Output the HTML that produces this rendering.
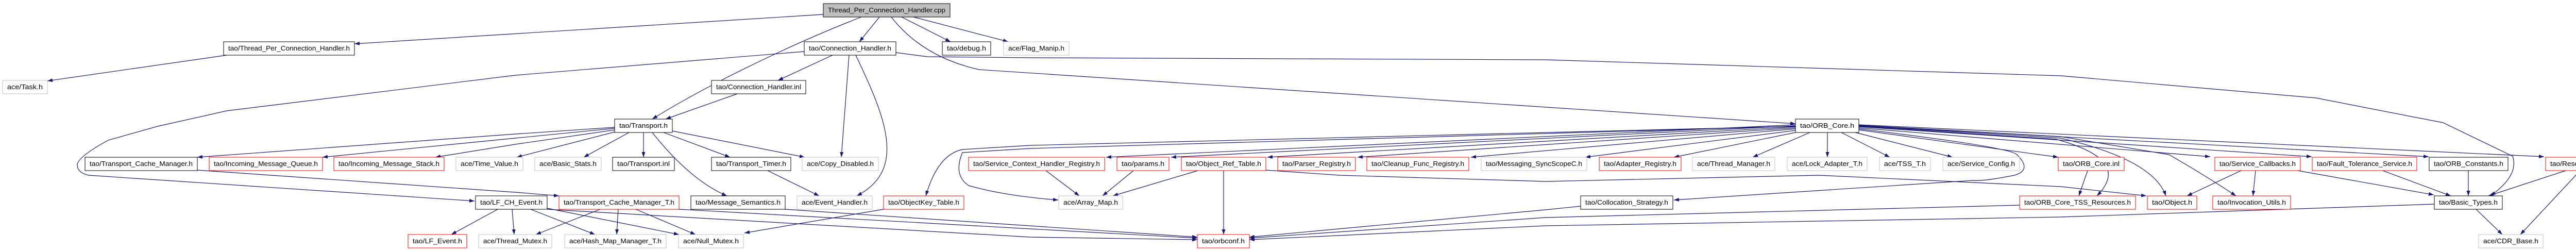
<!DOCTYPE html>
<html><head><meta charset="utf-8"><style>
html,body{margin:0;padding:0;background:#fff;}
svg{display:block;}
text{font-family:"Liberation Sans",sans-serif;font-size:13px;fill:#000;}
.e{fill:none;stroke:#191970;stroke-width:1.2;marker-end:url(#a);}
.b{fill:#fff;stroke:#000;stroke-width:1;}
.r{fill:#fff;stroke:#ff0000;stroke-width:1;}
.g{fill:#fff;stroke:#bfbfbf;stroke-width:1;}
</style></head><body>
<svg width="5109" height="485" viewBox="0 0 5109 485" xmlns="http://www.w3.org/2000/svg">
<defs><marker id="a" markerUnits="userSpaceOnUse" markerWidth="11" markerHeight="8" refX="10" refY="3.5" orient="auto"><path d="M0,0 L10,3.5 L0,7 z" fill="#191970"/></marker></defs>
<g>
<path class="e" d="M1598,28 L688,85"/>
<path class="e" d="M1707,33 L1668,81"/>
<path class="e" d="M1672,33 C1550,80 1380,160 1266,231"/>
<path class="e" d="M1750,33 L1845,81"/>
<path class="e" d="M1773,33 L1957,81"/>
<path class="e" d="M1730,33 Q1790,110 1900,135 L3485,240"/>
<path class="e" d="M1616,107 L1510,156"/>
<path class="e" d="M1648,107 L1633,305"/>
<path class="e" d="M1661,107 C1720,230 1760,330 1663,380"/>
<path class="e" d="M1561,100 L1000,146 L440,215 L306,245 L210,272 Q150,305 150,320 Q150,335 172,340 L921,390"/>
<path class="e" d="M1739,102 L1800,110 L2000,112 L3000,116 L4000,147 L4495,190 L4742,238 L4877,303 Q4890,340 4834,380"/>
<path class="e" d="M1431,182 L1292,231"/>
<path class="e" d="M1193,247 L1000,260 L383,305"/>
<path class="e" d="M1193,249 L1000,268 L626,305"/>
<path class="e" d="M1193,252 L1000,280 L845,305"/>
<path class="e" d="M1193,256 L1003,305"/>
<path class="e" d="M1221,257 L1133,305"/>
<path class="e" d="M1249,257 L1249,305"/>
<path class="e" d="M1288,257 L1417,305"/>
<path class="e" d="M1305,254 L1562,305"/>
<path class="e" d="M1266,257 Q1340,350 1411,380"/>
<path class="e" d="M383,330 L1000,373 L1085,380"/>
<path class="e" d="M1490,331 L1590,380"/>
<path class="e" d="M966,406 L876,455"/>
<path class="e" d="M994,406 L998,455"/>
<path class="e" d="M1030,406 L1155,455"/>
<path class="e" d="M1062,404 L1318,455"/>
<path class="e" d="M1062,406 L2000,460 L2324,465"/>
<path class="e" d="M1165,406 L1040,455"/>
<path class="e" d="M1200,406 L1197,455"/>
<path class="e" d="M1234,406 L1350,455"/>
<path class="e" d="M1318,406 L2000,444 L2324,462"/>
<path class="e" d="M1524,406 L2324,460"/>
<path class="e" d="M1715,406 L1445,452"/>
<path class="e" d="M3485,242 L2147,305"/>
<path class="e" d="M3485,244 L2273,305"/>
<path class="e" d="M3485,246 L2460,305"/>
<path class="e" d="M3485,248 L2635,305"/>
<path class="e" d="M3485,250 L2855,305"/>
<path class="e" d="M3485,253 L3077,305"/>
<path class="e" d="M3490,256 L3249,305"/>
<path class="e" d="M3513,257 L3402,305"/>
<path class="e" d="M3547,257 L3547,305"/>
<path class="e" d="M3574,257 L3668,305"/>
<path class="e" d="M3601,257 L3790,305"/>
<path class="e" d="M3608,252 L3995,305"/>
<path class="e" d="M3485,245 L2000,282 L1868,290 Q1820,300 1797,380"/>
<path class="e" d="M3485,245 L2000,288 L1868,296 Q1850,340 1880,360 Q1950,380 2054,388"/>
<path class="e" d="M3608,250 Q3900,285 3915,300 Q3945,330 3910,340 Q3850,352 3830,350 L3249,388"/>
<path class="e" d="M3608,245 L3990,270 Q4140,310 4070,380"/>
<path class="e" d="M3608,244 L4000,268 Q4180,310 4204,380"/>
<path class="e" d="M3608,243 L4000,265 L4210,300 Q4280,340 4340,380"/>
<path class="e" d="M3608,248 L4290,304"/>
<path class="e" d="M3608,246 L4487,304"/>
<path class="e" d="M3608,244 L4714,304"/>
<path class="e" d="M3608,242 L4938,304"/>
<path class="e" d="M2030,331 L2095,380"/>
<path class="e" d="M2200,331 L2140,380"/>
<path class="e" d="M2325,331 L2160,380"/>
<path class="e" d="M2375,331 L2375,455"/>
<path class="e" d="M2457,330 L2600,340 L3000,352 L3530,340 L4000,362 L4166,380"/>
<path class="e" d="M4052,331 L4035,380"/>
<path class="e" d="M4350,331 L4245,380"/>
<path class="e" d="M4378,331 L4373,380"/>
<path class="e" d="M4460,331 L4724,378"/>
<path class="e" d="M4625,331 L4757,380"/>
<path class="e" d="M4791,331 L4791,380"/>
<path class="e" d="M4980,331 L4830,380"/>
<path class="e" d="M5008,331 L4892,455"/>
<path class="e" d="M4806,406 L4857,455"/>
<path class="e" d="M4725,396 L4000,421 L3000,438 L2425,465"/>
<path class="e" d="M3920,398 L3000,422 L2425,462"/>
<path class="e" d="M3068,400 L3000,407 L2425,460"/>
<path class="e" d="M440,107 L92,157"/>
</g>
<g>
<rect x="1598" y="7" width="246" height="26" fill="#bfbfbf" stroke="#000"/><text x="1607" y="24" textLength="228" lengthAdjust="spacingAndGlyphs">Thread_Per_Connection_Handler.cpp</text>
<rect class="b" x="434" y="81" width="254" height="26"/><text x="443" y="98" textLength="236" lengthAdjust="spacingAndGlyphs">tao/Thread_Per_Connection_Handler.h</text>
<rect class="b" x="1561" y="81" width="178" height="26"/><text x="1570" y="98" textLength="160" lengthAdjust="spacingAndGlyphs">tao/Connection_Handler.h</text>
<rect class="b" x="1829" y="81" width="94" height="26"/><text x="1838" y="98" textLength="76" lengthAdjust="spacingAndGlyphs">tao/debug.h</text>
<rect class="g" x="1948" y="81" width="127" height="26"/><text x="1957" y="98" textLength="109" lengthAdjust="spacingAndGlyphs">ace/Flag_Manip.h</text>
<rect class="g" x="5" y="156" width="87" height="26"/><text x="14" y="173" textLength="69" lengthAdjust="spacingAndGlyphs">ace/Task.h</text>
<rect class="b" x="1381" y="156" width="183" height="26"/><text x="1390" y="173" textLength="165" lengthAdjust="spacingAndGlyphs">tao/Connection_Handler.inl</text>
<rect class="b" x="1193" y="231" width="112" height="26"/><text x="1202" y="248" textLength="94" lengthAdjust="spacingAndGlyphs">tao/Transport.h</text>
<rect class="b" x="3485" y="231" width="123" height="26"/><text x="3494" y="248" textLength="105" lengthAdjust="spacingAndGlyphs">tao/ORB_Core.h</text>

<rect class="b" x="165" y="305" width="218" height="26"/><text x="174" y="322" textLength="200" lengthAdjust="spacingAndGlyphs">tao/Transport_Cache_Manager.h</text>
<rect class="r" x="406" y="305" width="220" height="26"/><text x="415" y="322" textLength="202" lengthAdjust="spacingAndGlyphs">tao/Incoming_Message_Queue.h</text>
<rect class="r" x="648" y="305" width="214" height="26"/><text x="657" y="322" textLength="196" lengthAdjust="spacingAndGlyphs">tao/Incoming_Message_Stack.h</text>
<rect class="g" x="885" y="305" width="130" height="26"/><text x="894" y="322" textLength="112" lengthAdjust="spacingAndGlyphs">ace/Time_Value.h</text>
<rect class="g" x="1038" y="305" width="129" height="26"/><text x="1047" y="322" textLength="111" lengthAdjust="spacingAndGlyphs">ace/Basic_Stats.h</text>
<rect class="b" x="1189" y="305" width="120" height="26"/><text x="1198" y="322" textLength="102" lengthAdjust="spacingAndGlyphs">tao/Transport.inl</text>
<rect class="b" x="1381" y="305" width="154" height="26"/><text x="1390" y="322" textLength="136" lengthAdjust="spacingAndGlyphs">tao/Transport_Timer.h</text>
<rect class="g" x="1557" y="305" width="148" height="26"/><text x="1566" y="322" textLength="130" lengthAdjust="spacingAndGlyphs">ace/Copy_Disabled.h</text>
<rect class="r" x="1880" y="305" width="264" height="26"/><text x="1889" y="322" textLength="246" lengthAdjust="spacingAndGlyphs">tao/Service_Context_Handler_Registry.h</text>
<rect class="r" x="2168" y="305" width="101" height="26"/><text x="2177" y="322" textLength="83" lengthAdjust="spacingAndGlyphs">tao/params.h</text>
<rect class="r" x="2293" y="305" width="164" height="26"/><text x="2302" y="322" textLength="146" lengthAdjust="spacingAndGlyphs">tao/Object_Ref_Table.h</text>
<rect class="r" x="2480" y="305" width="151" height="26"/><text x="2489" y="322" textLength="133" lengthAdjust="spacingAndGlyphs">tao/Parser_Registry.h</text>
<rect class="r" x="2653" y="305" width="198" height="26"/><text x="2662" y="322" textLength="180" lengthAdjust="spacingAndGlyphs">tao/Cleanup_Func_Registry.h</text>
<rect class="g" x="2875" y="305" width="205" height="26"/><text x="2884" y="322" textLength="187" lengthAdjust="spacingAndGlyphs">tao/Messaging_SyncScopeC.h</text>
<rect class="r" x="3104" y="305" width="159" height="26"/><text x="3113" y="322" textLength="141" lengthAdjust="spacingAndGlyphs">tao/Adapter_Registry.h</text>
<rect class="g" x="3285" y="305" width="160" height="26"/><text x="3294" y="322" textLength="142" lengthAdjust="spacingAndGlyphs">ace/Thread_Manager.h</text>
<rect class="g" x="3469" y="305" width="155" height="26"/><text x="3478" y="322" textLength="137" lengthAdjust="spacingAndGlyphs">ace/Lock_Adapter_T.h</text>
<rect class="g" x="3648" y="305" width="99" height="26"/><text x="3657" y="322" textLength="81" lengthAdjust="spacingAndGlyphs">ace/TSS_T.h</text>
<rect class="g" x="3771" y="305" width="149" height="26"/><text x="3780" y="322" textLength="131" lengthAdjust="spacingAndGlyphs">ace/Service_Config.h</text>
<rect class="r" x="3995" y="305" width="128" height="26"/><text x="4004" y="322" textLength="110" lengthAdjust="spacingAndGlyphs">tao/ORB_Core.inl</text>
<rect class="r" x="4299" y="305" width="166" height="26"/><text x="4308" y="322" textLength="148" lengthAdjust="spacingAndGlyphs">tao/Service_Callbacks.h</text>
<rect class="r" x="4488" y="305" width="203" height="26"/><text x="4497" y="322" textLength="185" lengthAdjust="spacingAndGlyphs">tao/Fault_Tolerance_Service.h</text>
<rect class="b" x="4715" y="305" width="153" height="26"/><text x="4724" y="322" textLength="135" lengthAdjust="spacingAndGlyphs">tao/ORB_Constants.h</text>
<rect class="r" x="4941" y="305" width="164" height="26"/><text x="4950" y="322" textLength="146" lengthAdjust="spacingAndGlyphs">tao/Resource_Factory.h</text>

<rect class="b" x="923" y="380" width="139" height="26"/><text x="932" y="397" textLength="121" lengthAdjust="spacingAndGlyphs">tao/LF_CH_Event.h</text>
<rect class="r" x="1085" y="380" width="233" height="26"/><text x="1094" y="397" textLength="215" lengthAdjust="spacingAndGlyphs">tao/Transport_Cache_Manager_T.h</text>
<rect class="b" x="1341" y="380" width="183" height="26"/><text x="1350" y="397" textLength="165" lengthAdjust="spacingAndGlyphs">tao/Message_Semantics.h</text>
<rect class="g" x="1547" y="380" width="146" height="26"/><text x="1556" y="397" textLength="128" lengthAdjust="spacingAndGlyphs">ace/Event_Handler.h</text>
<rect class="r" x="1715" y="380" width="156" height="26"/><text x="1724" y="397" textLength="138" lengthAdjust="spacingAndGlyphs">tao/ObjectKey_Table.h</text>
<rect class="g" x="2055" y="380" width="124" height="26"/><text x="2064" y="397" textLength="106" lengthAdjust="spacingAndGlyphs">ace/Array_Map.h</text>
<rect class="b" x="3068" y="380" width="179" height="26"/><text x="3077" y="397" textLength="161" lengthAdjust="spacingAndGlyphs">tao/Collocation_Strategy.h</text>
<rect class="r" x="3920" y="380" width="225" height="26"/><text x="3929" y="397" textLength="207" lengthAdjust="spacingAndGlyphs">tao/ORB_Core_TSS_Resources.h</text>
<rect class="r" x="4168" y="380" width="96" height="26"/><text x="4177" y="397" textLength="78" lengthAdjust="spacingAndGlyphs">tao/Object.h</text>
<rect class="r" x="4295" y="380" width="151" height="26"/><text x="4304" y="397" textLength="133" lengthAdjust="spacingAndGlyphs">tao/Invocation_Utils.h</text>
<rect class="b" x="4725" y="380" width="132" height="26"/><text x="4734" y="397" textLength="114" lengthAdjust="spacingAndGlyphs">tao/Basic_Types.h</text>

<rect class="r" x="792" y="455" width="114" height="26"/><text x="801" y="472" textLength="96" lengthAdjust="spacingAndGlyphs">tao/LF_Event.h</text>
<rect class="g" x="929" y="455" width="142" height="26"/><text x="938" y="472" textLength="124" lengthAdjust="spacingAndGlyphs">ace/Thread_Mutex.h</text>
<rect class="g" x="1096" y="455" width="197" height="26"/><text x="1105" y="472" textLength="179" lengthAdjust="spacingAndGlyphs">ace/Hash_Map_Manager_T.h</text>
<rect class="g" x="1317" y="455" width="126" height="26"/><text x="1326" y="472" textLength="108" lengthAdjust="spacingAndGlyphs">ace/Null_Mutex.h</text>
<rect class="r" x="2324" y="455" width="101" height="26"/><text x="2333" y="472" textLength="83" lengthAdjust="spacingAndGlyphs">tao/orbconf.h</text>
<rect class="g" x="4811" y="455" width="125" height="26"/><text x="4820" y="472" textLength="107" lengthAdjust="spacingAndGlyphs">ace/CDR_Base.h</text>
</g>
</svg>
</body></html>
